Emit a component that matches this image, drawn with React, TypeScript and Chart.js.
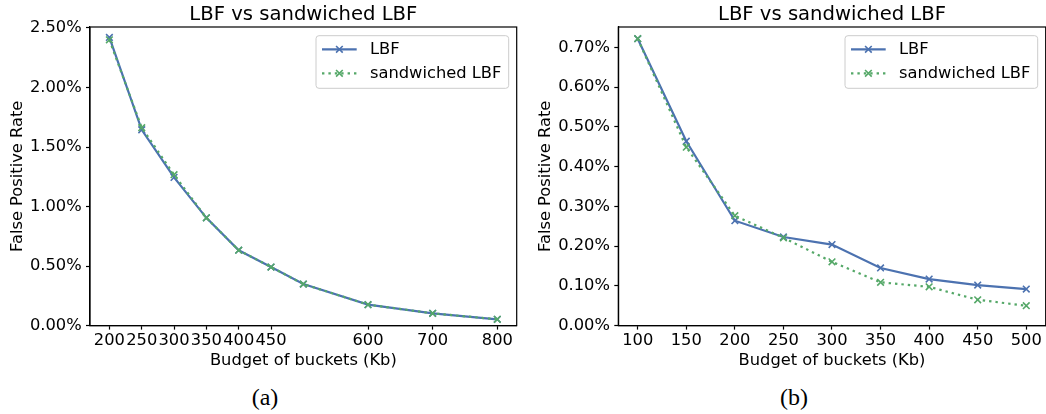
import { useEffect, useRef } from 'react';
import { Chart, registerables } from 'chart.js';

Chart.register(...registerables);

// ---- Data: panel (a) ----
const budgetA = [200, 250, 300, 350, 400, 450, 500, 600, 700, 800];
const lbfA = [2.42, 1.645, 1.245, 0.905, 0.633, 0.492, 0.349, 0.176, 0.103, 0.053];
const sandA = [2.4, 1.662, 1.268, 0.905, 0.633, 0.492, 0.349, 0.176, 0.103, 0.053];
const xTicksA = [200, 250, 300, 350, 400, 450, 600, 700, 800];
const yTicksA = [0, 0.5, 1.0, 1.5, 2.0, 2.5];

// ---- Data: panel (b) ----
const budgetB = [100, 150, 200, 250, 300, 350, 400, 450, 500];
const lbfB = [0.722, 0.464, 0.264, 0.223, 0.204, 0.145, 0.117, 0.102, 0.092];
const sandB = [0.722, 0.449, 0.2765, 0.221, 0.1605, 0.109, 0.0975, 0.065, 0.05];
const xTicksB = [100, 150, 200, 250, 300, 350, 400, 450, 500];
const yTicksB = [0, 0.1, 0.2, 0.3, 0.4, 0.5, 0.6, 0.7];

const seriesNames = ['LBF', 'sandwiched LBF'];
const titleText = 'LBF vs sandwiched LBF';
const xTitle = 'Budget of buckets (Kb)';
const yTitle = 'False Positive Rate';

const BLUE = '#4C72B0';
const GREEN = '#55A868';
const FONT = 'DejaVu Sans';
const FS = 16.3;
const LW = 2.2;
const DOT = [2.4, 4];
const MR = 4.7;

function drawX(ctx: CanvasRenderingContext2D, x: number, y: number, color: string) {
  const h = MR * Math.SQRT1_2;
  ctx.save();
  ctx.setLineDash([]);
  ctx.strokeStyle = color;
  ctx.lineWidth = 1.6;
  ctx.beginPath();
  ctx.moveTo(x - h, y - h);
  ctx.lineTo(x + h, y + h);
  ctx.moveTo(x - h, y + h);
  ctx.lineTo(x + h, y - h);
  ctx.stroke();
  ctx.restore();
}

const framePlugin = {
  id: 'frameLegend',
  afterDraw(chart: any) {
    const { ctx, chartArea: a } = chart;
    ctx.save();
    ctx.strokeStyle = '#000';
    ctx.lineWidth = 1.2;
    ctx.strokeRect(a.left, a.top, a.right - a.left, a.bottom - a.top);

    // legend
    const bw = 192.7;
    const bh = 52.6;
    const bx = a.right - 8 - bw;
    const by = a.top + 8.7;
    ctx.beginPath();
    ctx.roundRect(bx, by, bw, bh, 3);
    ctx.fillStyle = 'rgba(255,255,255,0.8)';
    ctx.fill();
    ctx.strokeStyle = '#cccccc';
    ctx.lineWidth = 1;
    ctx.stroke();

    const rows = [
      { name: seriesNames[0], color: BLUE, dash: [] as number[], y: by + 13.6 },
      { name: seriesNames[1], color: GREEN, dash: DOT, y: by + 37.6 },
    ];
    rows.forEach((r) => {
      ctx.save();
      ctx.strokeStyle = r.color;
      ctx.lineWidth = LW;
      ctx.setLineDash(r.dash);
      ctx.beginPath();
      ctx.moveTo(bx + 6, r.y);
      ctx.lineTo(bx + 40.7, r.y);
      ctx.stroke();
      ctx.restore();
      drawX(ctx, bx + 23.4, r.y, r.color);
      ctx.fillStyle = '#000';
      ctx.font = `${FS}px "${FONT}"`;
      ctx.textBaseline = 'middle';
      ctx.textAlign = 'left';
      ctx.fillText(r.name, bx + 54, r.y);
    });
    ctx.restore();
  },
};

type PanelProps = {
  xs: number[];
  lbf: number[];
  sand: number[];
  xTicks: number[];
  yTicks: number[];
  xMin: number;
  xMax: number;
  yMax: number;
  left: number;
  width: number;
  yAxisWidth: number;
  yTitlePad: number;
  padRight: number;
};

function Panel(p: PanelProps) {
  const ref = useRef<HTMLCanvasElement | null>(null);
  useEffect(() => {
    if (!ref.current) return;
    const font = { family: FONT, size: FS };
    const mk = (ys: number[]) => p.xs.map((x, i) => ({ x, y: ys[i] }));
    const chart = new Chart(ref.current, {
      type: 'line',
      data: {
        datasets: [
          {
            label: seriesNames[0],
            data: mk(p.lbf),
            borderColor: BLUE,
            backgroundColor: BLUE,
            borderWidth: LW,
            pointStyle: 'crossRot',
            pointRadius: MR,
            pointBorderWidth: 1.6,
            pointBorderColor: BLUE,
            tension: 0,
            fill: false,
            order: 1,
          },
          {
            label: seriesNames[1],
            data: mk(p.sand),
            borderColor: GREEN,
            backgroundColor: GREEN,
            borderWidth: LW,
            borderDash: DOT,
            pointStyle: 'crossRot',
            pointRadius: MR,
            pointBorderWidth: 1.6,
            pointBorderColor: GREEN,
            tension: 0,
            fill: false,
            order: 0,
          },
        ],
      },
      options: {
        animation: false,
        responsive: false,
        devicePixelRatio: 1,
        layout: { padding: { left: 0, right: p.padRight, top: 0, bottom: 0 } },
        plugins: {
          legend: { display: false },
          tooltip: { enabled: false },
          title: {
            display: true,
            text: titleText,
            fullSize: false,
            color: '#000',
            font: { family: FONT, size: 19.6, weight: 'normal' },
            padding: { top: 2.74, bottom: 0.74 },
          },
        },
        scales: {
          x: {
            type: 'linear',
            min: p.xMin,
            max: p.xMax,
            afterBuildTicks: (s: any) => {
              s.ticks = p.xTicks.map((v) => ({ value: v }));
            },
            afterFit: (s: any) => {
              s.height = 54.4;
            },
            grid: {
              drawOnChartArea: false,
              drawTicks: true,
              tickLength: 4,
              color: '#000',
              tickWidth: 1.2,
            },
            border: { display: true, color: '#000', width: 1.2 },
            ticks: {
              autoSkip: false,
              maxRotation: 0,
              minRotation: 0,
              padding: 1.8,
              color: '#000',
              font,
              callback: (v: any) => String(v),
            },
            title: {
              display: true,
              text: xTitle,
              color: '#000',
              font,
              padding: { top: 0, bottom: 9.8 },
            },
          },
          y: {
            type: 'linear',
            min: 0,
            max: p.yMax,
            afterBuildTicks: (s: any) => {
              s.ticks = p.yTicks.map((v) => ({ value: v }));
            },
            afterFit: (s: any) => {
              s.width = p.yAxisWidth;
            },
            grid: {
              drawOnChartArea: false,
              drawTicks: true,
              tickLength: 4,
              color: '#000',
              tickWidth: 1.2,
            },
            border: { display: true, color: '#000', width: 1.2 },
            ticks: {
              padding: 4.4,
              color: '#000',
              font,
              callback: (v: any) => Number(v).toFixed(2) + '%',
            },
            title: {
              display: true,
              text: yTitle,
              color: '#000',
              font,
              padding: { top: p.yTitlePad, bottom: 0 },
            },
          },
        },
      },
      plugins: [framePlugin],
    } as any);
    return () => chart.destroy();
  }, []);
  return (
    <canvas
      ref={ref}
      width={p.width}
      height={380}
      style={{ position: 'absolute', left: p.left, top: 0, width: p.width, height: 380 }}
    />
  );
}

const captionStyle = (x: number): any => ({
  position: 'absolute',
  left: x,
  top: 385,
  transform: 'translateX(-50%)',
  fontFamily: '"Liberation Serif", serif',
  fontSize: 24,
  lineHeight: 1,
  color: '#000',
  whiteSpace: 'nowrap',
});

export default function App() {
  return (
    <div
      style={{
        position: 'absolute',
        left: 0,
        top: 0,
        width: 1046,
        height: 414,
        overflow: 'hidden',
        background: '#fff',
      }}
    >
      <Panel
        xs={budgetA}
        lbf={lbfA}
        sand={sandA}
        xTicks={xTicksA}
        yTicks={yTicksA}
        xMin={170}
        xMax={830}
        yMax={2.508}
        left={0}
        width={523}
        yAxisWidth={90}
        yTitlePad={7.7}
        padRight={4}
      />
      <Panel
        xs={budgetB}
        lbf={lbfB}
        sand={sandB}
        xTicks={xTicksB}
        yTicks={yTicksB}
        xMin={80}
        xMax={520}
        yMax={0.7515}
        left={522}
        width={530}
        yAxisWidth={96.3}
        yTitlePad={14}
        padRight={5.3}
      />
      <div style={captionStyle(265)}>(a)</div>
      <div style={captionStyle(794)}>(b)</div>
    </div>
  );
}
